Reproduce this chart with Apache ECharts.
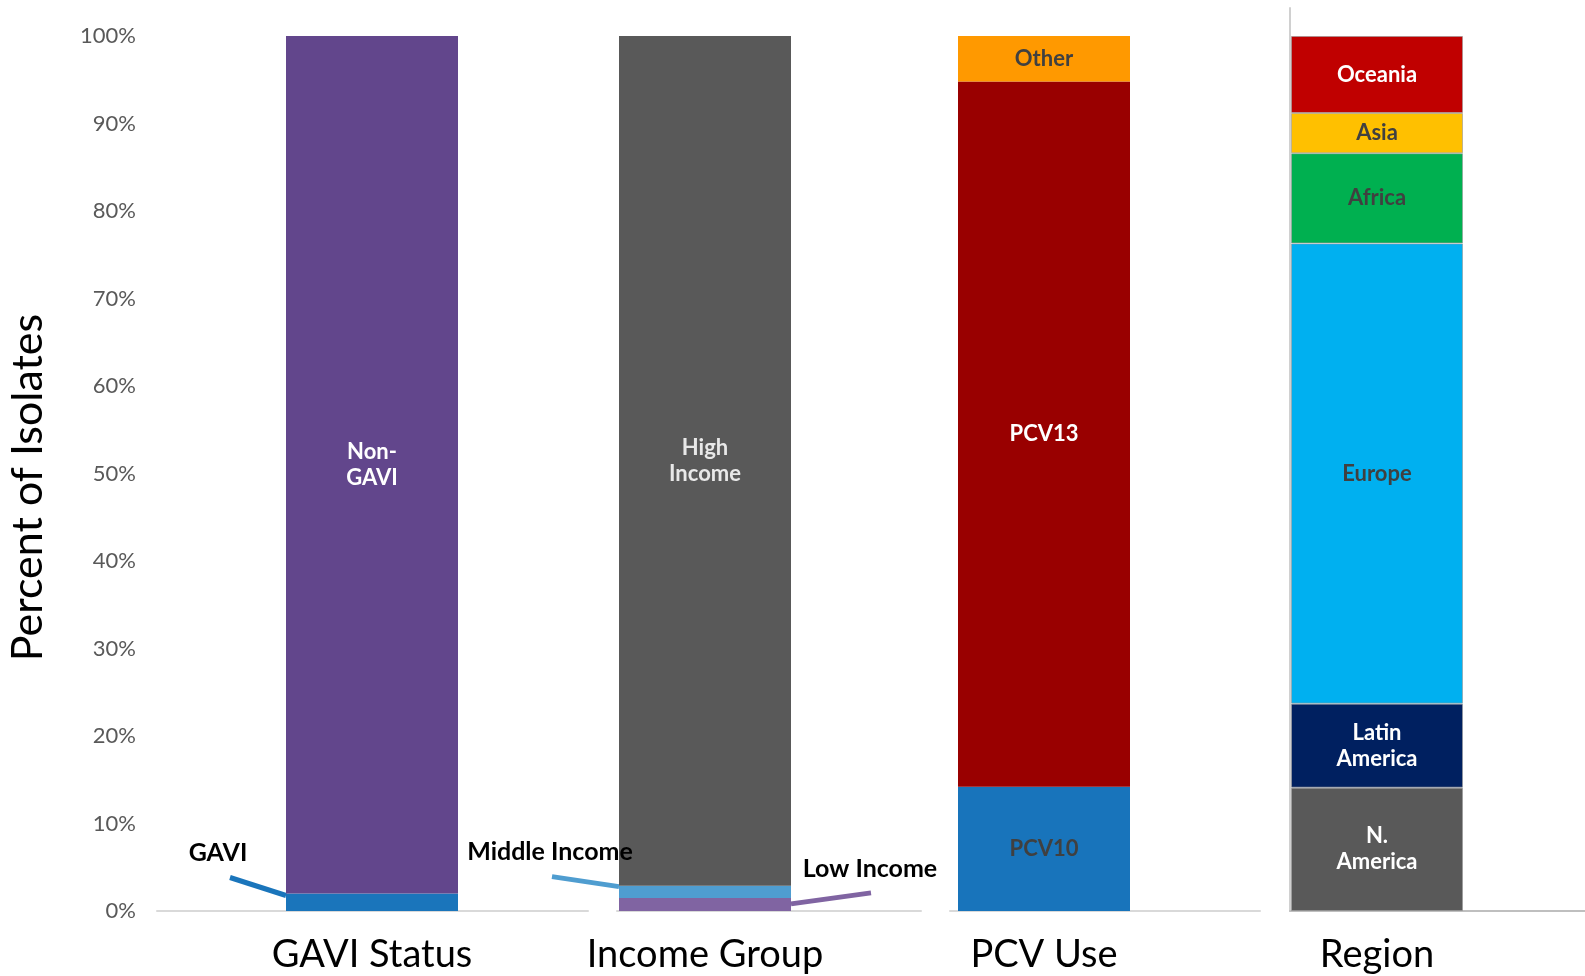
<!DOCTYPE html>
<html>
<head>
<meta charset="utf-8">
<script src="https://cdn.jsdelivr.net/npm/echarts@6/dist/echarts.min.js"></script>
<style>
html,body{margin:0;padding:0;background:#fff;}
#chart{width:1585px;height:976px;}
</style>
</head>
<body>
<div id="chart"></div>
<script>
// ---- data ----
var panelTitles = ['GAVI Status', 'Income Group', 'PCV Use', 'Region'];
var yTicks = [0, 10, 20, 30, 40, 50, 60, 70, 80, 90, 100];

var gaviNames = ['GAVI', 'Non-GAVI'];
var gaviLabels = ['GAVI', 'Non-\nGAVI'];
var gaviValues = [2.0, 98.0];

var incomeNames = ['Low Income', 'Middle Income', 'High Income'];
var incomeLabels = ['Low Income', 'Middle Income', 'High\nIncome'];
var incomeValues = [1.5, 1.4, 97.1];

var pcvNames = ['PCV10', 'PCV13', 'Other'];
var pcvLabels = ['PCV10', 'PCV13', 'Other'];
var pcvValues = [14.2, 80.6, 5.2];

var regionNames = ['N. America', 'Latin America', 'Europe', 'Africa', 'Asia', 'Oceania'];
var regionLabels = ['N.\nAmerica', 'Latin\nAmerica', 'Europe', 'Africa', 'Asia', 'Oceania'];
var regionValues = [14.1, 9.6, 52.6, 10.3, 4.6, 8.8];

// ---- styles ----
var FONT = 'Lato, "Open Sans", sans-serif';
var BAR_W = 172;
var barCenters = [372, 705, 1044, 1377];
var lineSegs = [[157, 588, '#d9d9d9'], [617, 921, '#d9d9d9'], [950, 1260, '#d9d9d9'], [1290, 1585, '#bfbfbf']];

// callout placements (label offset and leader-line shape), relative to the segment laid out by ECharts
// r = {left, right, top}
var callouts = {
  GAVI: {
    label: function (r) { return [r.x - 68, r.y - 41]; },
    line: function (r) { return [[r.left, r.top + 2], [r.left - 56, r.top - 16]]; }
  },
  'Middle Income': {
    label: function (r) { return [r.x - 69, r.y - 34]; },
    line: function (r) { return [[r.left, r.top + 1], [r.left - 67, r.top - 9]]; }
  },
  'Low Income': {
    label: function (r) { return [r.x + r.width + 79, r.y - 29]; },
    line: function (r) { return [[r.right, r.top + 6], [r.right + 80, r.top - 5]]; }
  }
};

var panels = [
  {names: gaviNames, labels: gaviLabels, values: gaviValues,
   colors: ['#1a75bb', '#62468c'], textColors: ['#000', '#fff']},
  {names: incomeNames, labels: incomeLabels, values: incomeValues,
   colors: ['#8064a2', '#4f9dd0', '#595959'], textColors: ['#000', '#000', '#e8e8e8']},
  {names: pcvNames, labels: pcvLabels, values: pcvValues,
   colors: ['#1874bb', '#990000', '#ff9900'], textColors: ['#404040', '#fff', '#404040']},
  {names: regionNames, labels: regionLabels, values: regionValues,
   colors: ['#595959', '#002060', '#00b0f0', '#00b050', '#ffc000', '#c00000'],
   textColors: ['#fff', '#fff', '#404040', '#404040', '#404040', '#fff']}
];

var grids = [], xAxes = [], yAxes = [], series = [];
barCenters.forEach(function (c, i) {
  grids.push({left: c - 160, width: 320, top: 36, bottom: 65});
  xAxes.push({type: 'category', gridIndex: i, data: [panelTitles[i]],
    axisLine: {show: false}, axisTick: {show: false},
    axisLabel: {fontSize: 38, color: '#000', margin: 25, fontFamily: FONT}});
  var y = {type: 'value', gridIndex: i, min: yTicks[0], max: yTicks[yTicks.length - 1], interval: yTicks[1] - yTicks[0],
    splitLine: {show: false}, axisLine: {show: false}, axisTick: {show: false},
    axisLabel: {show: i === 0, formatter: '{value}%', fontSize: 22, color: '#595959', margin: 76, fontFamily: FONT}};
  if (i === 0) {
    y.name = 'Percent of Isolates';
    y.nameLocation = 'middle';
    y.nameGap = 162;
    y.nameTextStyle = {fontSize: 43, color: '#000', fontFamily: FONT, padding: [0, 28, 0, 0]};
  }
  yAxes.push(y);
});
// axis-line segments
lineSegs.forEach(function (s, k) {
  var gi = 4 + k;
  grids.push({left: s[0], width: s[1] - s[0], top: k === 3 ? 8 : 36, bottom: 65});
  xAxes.push({type: 'category', gridIndex: gi, data: [''],
    axisLine: {show: true, lineStyle: {color: s[2], width: 2}},
    axisTick: {show: false}, axisLabel: {show: false}});
  yAxes.push({type: 'value', gridIndex: gi, min: 0, max: 100, show: k === 3,
    splitLine: {show: false}, axisTick: {show: false}, axisLabel: {show: false},
    axisLine: {show: k === 3, lineStyle: {color: '#d0d0d0', width: 2}}});
});

panels.forEach(function (p, i) {
  var cum = 0;
  p.names.forEach(function (n, j) {
    var base = cum;
    cum += p.values[j];
    var s = {
      type: 'bar', name: n, xAxisIndex: i, yAxisIndex: i, stack: 'p' + i,
      barWidth: BAR_W, data: [p.values[j]],
      itemStyle: {color: p.colors[j], borderColor: i === 3 ? 'rgba(150,150,150,0.6)' : null, borderWidth: i === 3 ? 1 : 0},
      label: {show: true, position: 'inside', formatter: p.labels[j], color: p.textColors[j],
        fontWeight: 'bold', fontSize: 22, lineHeight: 26, fontFamily: FONT},
      z: 3
    };
    var co = callouts[n];
    if (co) {
      s.label.fontSize = 25;
      s.labelLayout = (function (fn) {
        return function (params) {
          var xy = fn(params.rect);
          return {x: xy[0], y: xy[1], align: 'center', verticalAlign: 'middle'};
        };
      })(co.label);
      // leader line, anchored to the stacked segment through the axes
      series.push({
        type: 'custom', name: n + ' leader', xAxisIndex: i, yAxisIndex: i, z: 2,
        silent: true,
        data: [[0, base, cum]],
        renderItem: (function (fn, color) {
          return function (params, api) {
            var pTop = api.coord([api.value(0), api.value(2)]);
            var r = {left: pTop[0] - BAR_W / 2, right: pTop[0] + BAR_W / 2, top: pTop[1]};
            return {type: 'polyline', shape: {points: fn(r)},
              style: {stroke: color, lineWidth: 5, fill: null}};
          };
        })(co.line, p.colors[j])
      });
    }
    series.push(s);
  });
});

var chart = echarts.init(document.getElementById('chart'));
chart.setOption({
  animation: false,
  backgroundColor: '#fff',
  grid: grids, xAxis: xAxes, yAxis: yAxes, series: series
});
</script>
</body>
</html>
